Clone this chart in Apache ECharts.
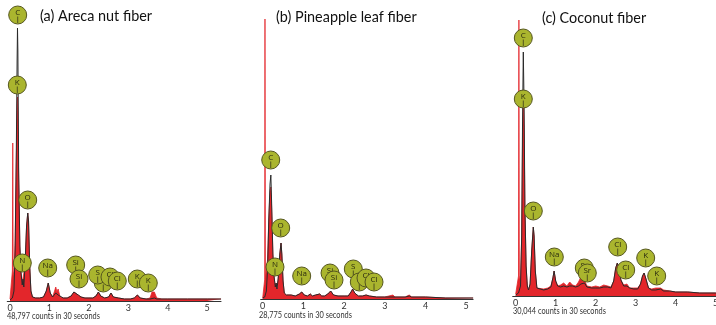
<!DOCTYPE html>
<html><head><meta charset="utf-8">
<script src="https://cdn.jsdelivr.net/npm/echarts@6/dist/echarts.min.js"></script>
<style>html,body{margin:0;padding:0;background:#fff}#c{width:716px;height:325px}</style>
</head><body><div id="c"></div>
<script>
// ---- Panel titles and footers ----
const titles = ['(a) Areca nut fiber', '(b) Pineapple leaf fiber', '(c) Coconut fiber'];
const countsText = ['48,797 counts in 30 seconds', '28,775 counts in 30 seconds', '30,044 counts in 30 seconds'];
const tickValues = [0, 1, 2, 3, 4, 5];

// ---- (a) Areca nut fiber: energy (keV), red spectrum, black trace ----
const energyA = [0.00,0.04,0.06,0.07,0.08,0.10,0.13,0.16,0.18,0.19,0.20,0.22,0.25,0.28,0.31,0.33,0.35,0.38,0.42,0.45,0.47,0.50,0.53,0.57,0.65,0.75,0.85,0.92,0.97,1.02,1.08,1.13,1.16,1.19,1.22,1.27,1.35,1.45,1.55,1.62,1.67,1.73,1.80,1.90,2.00,2.10,2.18,2.24,2.30,2.40,2.50,2.56,2.62,2.75,2.90,3.05,3.15,3.23,3.30,3.45,3.55,3.60,3.66,3.72,3.85,4.00,4.50,5.00,5.35];
const fillA   = [2,3,30,158,30,25,60,140,195,204,190,120,55,28,18,20,16,35,75,88,80,35,10,4,3,3,4,10,18,8,4,10,14,9,12,4,3,3,5,9,11,6,4,3,3,3,5,9,5,3,4,8,4,3,2,2,3,6,3,2,3,9,9,3,2,2,2,2,2];
const traceA  = [1,2,3,4,5,10,50,150,240,273,250,130,55,28,16,22,14,35,75,88,80,35,10,4,3,3,4,10,18,8,4,6,8,6,6,4,3,3,5,9,11,6,4,3,3,3,5,9,5,3,4,8,4,3,2,2,3,6,3,2,2,3,3,2,2,2,2,2,2];
const elemA   = ['C','K','O','N','Na','Si','Si','S','S','Cl','Cl','K','K'];
const elemXA  = [0.195,0.185,0.449,0.312,0.956,1.665,1.749,2.365,2.223,2.535,2.72,3.227,3.506];
const elemYA  = [286,216,101,38,33,36,22,18,26,24,20,22,18];

// ---- (b) Pineapple leaf fiber ----
const energyB = [0.00,0.03,0.05,0.056,0.065,0.09,0.12,0.15,0.18,0.20,0.22,0.25,0.28,0.31,0.33,0.35,0.38,0.42,0.45,0.47,0.50,0.53,0.58,0.70,0.80,0.90,0.96,1.02,1.10,1.17,1.22,1.30,1.40,1.45,1.52,1.60,1.67,1.74,1.85,2.00,2.10,2.17,2.21,2.26,2.35,2.45,2.54,2.62,2.80,3.00,3.20,3.25,3.50,3.60,3.66,4.00,4.50,5.17];
const fillB   = [1,2,20,280,20,22,40,80,108,112,90,45,22,12,16,10,20,45,56,45,18,6,4,4,3,5,7,4,3,5,3,4,5,3,3,5,8,4,3,3,3,7,10,6,3,3,4,3,2,2,4,2,2,4,2,2,1,1];
const traceB  = [1,1,2,3,4,8,30,80,115,124,95,45,22,12,16,10,20,45,56,45,18,6,4,4,3,5,7,4,3,5,3,4,5,3,3,5,8,4,3,3,3,7,10,6,3,3,4,3,2,2,2,2,2,3,2,2,1,1];
const elemB   = ['C','O','N','Na','Si','Si','S','S','Cl','Cl'];
const elemXB  = [0.197,0.442,0.302,0.958,1.654,1.752,2.226,2.373,2.538,2.735];
const elemYB  = [139,71,32,23,26,19,30,17,21,17];

// ---- (c) Coconut fiber ----
const energyC = [0.00,0.05,0.07,0.08,0.09,0.12,0.15,0.17,0.19,0.21,0.23,0.26,0.29,0.32,0.36,0.40,0.44,0.46,0.49,0.53,0.58,0.70,0.80,0.88,0.93,0.96,1.00,1.05,1.12,1.20,1.28,1.35,1.42,1.50,1.57,1.63,1.67,1.72,1.78,1.90,2.00,2.10,2.20,2.30,2.38,2.45,2.50,2.54,2.58,2.63,2.70,2.78,2.85,2.95,3.05,3.12,3.17,3.21,3.25,3.32,3.40,3.50,3.55,3.62,3.70,3.85,4.00,4.30,4.60,5.00,5.20];
const fillC   = [2,3,20,276,20,15,60,150,200,170,90,30,10,6,12,45,69,60,25,8,6,7,8,10,18,25,15,10,11,13,10,14,11,10,14,19,21,16,10,9,10,9,11,10,9,15,28,33,28,16,11,12,8,8,8,12,20,23,18,8,7,8,9,8,6,5,4,4,3,3,3];
const traceC  = [1,2,3,4,5,10,60,170,244,190,90,30,10,6,12,45,69,60,25,8,6,6,7,9,18,25,15,10,9,10,9,10,10,9,10,12,13,13,9,8,8,8,9,9,8,15,28,33,28,16,10,10,8,7,7,12,20,23,18,8,6,6,7,7,5,5,4,4,3,3,3];
const elemC   = ['C','K','O','Na','Sr','Sr','Cl','Cl','K','K'];
const elemXC  = [0.19,0.19,0.44,0.965,1.715,1.79,2.55,2.75,3.25,3.525];
const elemYC  = [258,197,85,39,28,23,49,26,38,20];

// ---- build ----
const panels = [
  {e: energyA, f: fillA, t: traceA, el: elemA, ex: elemXA, ey: elemYA, left: 7.24, width: 213.8, min: -0.07, max: 5.35, ymax: 301},
  {e: energyB, f: fillB, t: traceB, el: elemB, ex: elemXB, ey: elemYB, left: 260.67, width: 212.45, min: -0.05, max: 5.17, ymax: 299},
  {e: energyC, f: fillC, t: traceC, el: elemC, ex: elemXC, ey: elemYC, left: 512.7, width: 211, min: -0.075, max: 5.2, ymax: 296}
];
const zip = (a, b) => a.map((v, i) => [v, b[i]]);
const grids = [], xAxes = [], yAxes = [], series = [];
panels.forEach((p, i) => {
  grids.push({left: p.left, width: p.width, top: 0, height: p.ymax, containLabel: false, outerBoundsMode: 'none'});
  xAxes.push({type: 'value', gridIndex: i, min: p.min, max: p.max,
    axisLine: {show: true, onZero: false, lineStyle: {color: '#333', width: 1}},
    axisTick: {show: false}, splitLine: {show: false},
    axisLabel: {customValues: tickValues, color: '#333', fontSize: 9, margin: 3, fontFamily: 'Lato',
      hideOverlap: false, showMaxLabel: true, showMinLabel: true}});
  yAxes.push({type: 'value', gridIndex: i, min: 0, max: p.ymax, show: false, splitLine: {show: false}});
  series.push({type: 'line', xAxisIndex: i, yAxisIndex: i, data: zip(p.e, p.f), symbol: 'none', silent: true,
    lineStyle: {color: '#e3262b', width: 0.8}, areaStyle: {color: '#e3262b', opacity: 1}, z: 2});
  series.push({type: 'line', xAxisIndex: i, yAxisIndex: i, data: zip(p.e, p.t), symbol: 'none', silent: true,
    lineStyle: {color: '#2a2a2a', width: 1}, z: 3});
  const labels = p.el;
  series.push({type: 'custom', xAxisIndex: i, yAxisIndex: i, data: zip(p.ex, p.ey), z: 5, silent: true, clip: false,
    renderItem: function (params, api) {
      const c = api.coord([api.value(0), api.value(1)]);
      return {type: 'group', children: [
        {type: 'circle', shape: {cx: c[0], cy: c[1], r: 9}, style: {fill: '#aab52e', stroke: '#55561f', lineWidth: 1}},
        {type: 'line', shape: {x1: c[0], y1: c[1] + 1.5, x2: c[0], y2: c[1] + 8}, style: {stroke: '#3a3a1a', lineWidth: 0.8}},
        {type: 'text', style: {text: labels[params.dataIndex], x: c[0], y: c[1] - 2.5, align: 'center', verticalAlign: 'middle',
          font: '8px "Open Sans", sans-serif', fill: '#2b2b10'}}
      ]};
    }});
});

const titleX = [40, 276, 542], titleY = [16, 17, 18];
const countX = [7, 259, 513], countY = [316.5, 315, 311];
const graphic = [];
titles.forEach((t, i) => graphic.push({type: 'text', x: titleX[i], y: titleY[i], z: 10, scaleX: 0.9,
  style: {text: t, font: '16px Lato', fill: '#111', verticalAlign: 'middle', align: 'left'}}));
countsText.forEach((t, i) => graphic.push({type: 'text', x: countX[i], y: countY[i], z: 10, scaleX: 0.82,
  style: {text: t, font: '9px Lato', fill: '#333', verticalAlign: 'middle', align: 'left'}}));

const chart = echarts.init(document.getElementById('c'), null, {renderer: 'canvas'});
chart.setOption({animation: false, grid: grids, xAxis: xAxes, yAxis: yAxes, series: series, graphic: graphic});
</script></body></html>
